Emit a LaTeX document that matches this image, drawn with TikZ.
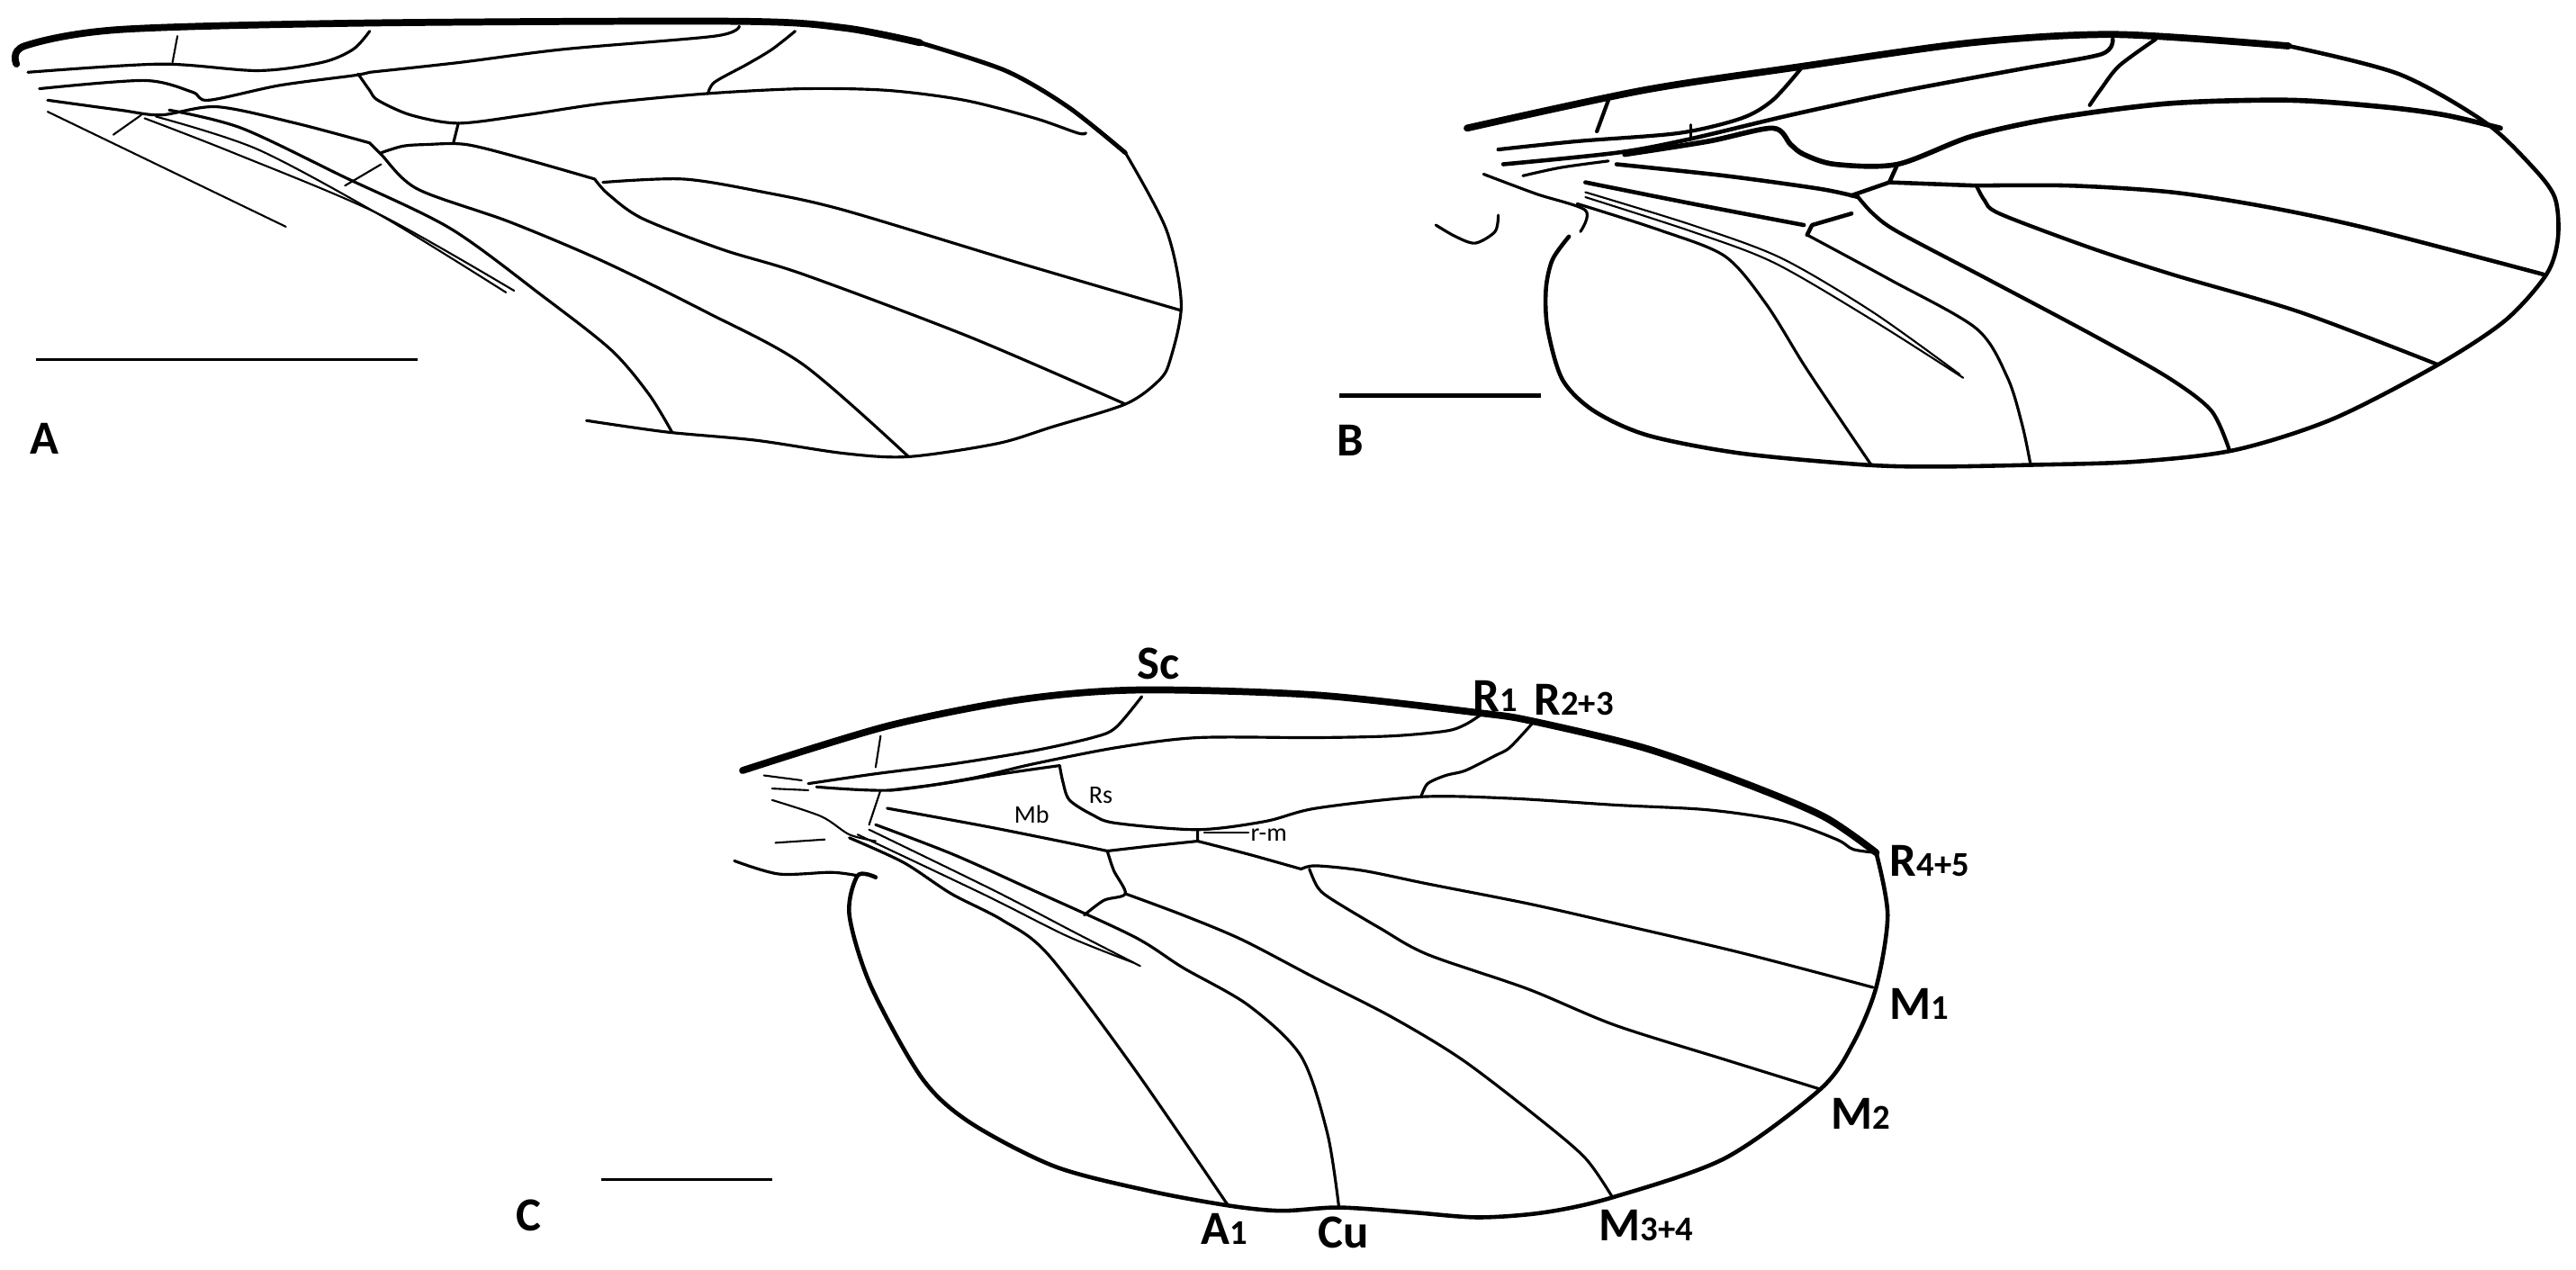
\documentclass[tikz,border=0pt]{standalone}
\usepackage{fontspec}
\setmainfont{Carlito}
\begin{document}
\begin{tikzpicture}[x=0.018253cm,y=-0.018253cm,
  vein/.style={line width=0.9pt,line cap=round,line join=round},
  thinv/.style={line width=0.6pt,line cap=round},
  costa/.style={line width=2.2pt,line cap=round},
  bar/.style={line width=1pt},
  lab/.style={font=\bfseries\fontsize{15}{15}\selectfont,inner sep=0pt},
  slab/.style={font=\fontsize{8}{8}\selectfont,inner sep=0pt},
  sub/.style={}]
\useasboundingbox (0,0) rectangle (1568,773);
% ================= Wing A =================
\draw[costa] plot[smooth] coordinates {(10,39) (15,28) (73,18) (225,14) (450,13) (514,17) (560,26)};
\draw[vein,line width=1.4pt] plot[smooth] coordinates {(560,26) (612,43) (650,65) (685,93)};
\draw[vein] plot[smooth] coordinates {(685,93) (710,140) (719,185) (712,220) (705,232) (685,246) (640,260) (607,270) (553,278) (514,276) (460,268) (406,263) (357,256)};
\draw[vein] plot[smooth] coordinates {(17,44) (98,39) (157,43) (196,38) (215,30) (225,19)};
\draw[thinv] (108,22) -- (105,38);
\draw[vein] plot[smooth] coordinates {(225,44) (280,38) (343,30) (435,22) (450,16)};
\draw[vein] plot[smooth] coordinates {(24,54) (88,49) (117,56) (127,61) (170,52) (215,46) (225,44)};
\draw[vein] plot[smooth] coordinates {(484,19) (470,30) (455,39) (435,50) (431,57)};
\draw[vein] plot[smooth] coordinates {(218,45) (225,55) (230,61) (250,70) (279,75) (320,70) (367,63) (430,57) (489,54) (540,55) (587,61) (630,72) (656,81) (661,81)};
\draw[vein] (279,75) -- (276,87);
\draw[vein] plot[smooth] coordinates {(29,61) (73,67) (98,70) (132,65) (180,75) (225,87)};
\draw[vein] plot[smooth] coordinates {(232,93) (245,89) (259,88) (284,88) (320,97) (362,109)};
\draw[vein] plot[smooth] coordinates {(367,111) (416,109) (465,117) (514,128) (620,160) (719,189)};
\draw[vein] plot[smooth] coordinates {(362,109) (370,118) (391,133) (440,152) (489,167) (590,205) (685,246)};
\draw[vein] plot[smooth] coordinates {(225,87) (232,94) (254,115) (310,135) (367,159) (430,190) (489,222) (553,278)};
\draw[thinv] (232,100) -- (210,113);
\draw[vein] plot[smooth] coordinates {(103,67) (147,78) (210,108) (274,139) (330,180) (372,213) (395,240) (409,263)};
\draw[thinv] plot[smooth] coordinates {(88,72) (142,93) (230,130) (313,177)};
\draw[thinv] plot[smooth] coordinates {(95,71) (157,91) (235,133) (308,178)};
\draw[thinv] (29,68) -- (174,138);
\draw[thinv] (86,70) -- (69,82);
\draw[bar] (22,219) coordinate (a1) -- (254,219) coordinate (a2);
\node[lab] (labA) at (27,267) {A};
% ================= Wing B =================
\draw[costa] plot[smooth] coordinates {(893,78) (1000,55) (1093,41) (1200,26) (1288,21) (1393,28)};
\draw[vein,line width=1.3pt] plot[smooth] coordinates {(1393,28) (1460,45) (1512,74) (1540,100) (1555,120) (1557,145) (1550,167) (1525,195) (1484,222) (1420,255) (1360,274) (1300,281) (1236,283) (1180,284) (1136,283) (1060,276) (1003,265) (970,250) (951,231) (942,200) (941,176) (945,158) (955,144)};
\draw[vein,line width=1.2pt] plot[smooth] coordinates {(912,91) (960,86) (1022,81) (1060,72) (1079,61) (1096,42)};
\draw[vein,line width=1.2pt] (979,61) -- (972,80);
\draw[vein,line width=1.3pt] plot[smooth] coordinates {(915,100) (984,93) (1027,85) (1090,70) (1155,56) (1230,42) (1279,33) (1286,24)};
\draw[vein] (1029,76) -- (1029,85);
\draw[vein,line width=1.2pt] plot[smooth] coordinates {(1312,24) (1290,40) (1279,54) (1272,64)};
\draw[vein,line width=1.6pt] plot[smooth] coordinates {(989,94) (1040,86) (1079,78) (1090,88) (1098,94) (1117,100) (1155,100) (1200,83) (1250,72) (1320,63) (1393,61) (1450,65) (1488,70) (1522,78)};
\draw[vein,line width=1.3pt] (1155,100) -- (1150,111);
\draw[vein,line width=1.3pt] plot[smooth] coordinates {(984,100) (1050,107) (1108,115) (1131,120)};
\draw[vein,line width=1.3pt] (1127,119) -- (1150,111) -- (1203,113);
\draw[vein,line width=1.3pt] plot[smooth] coordinates {(1203,113) (1260,113) (1322,117) (1380,126) (1441,139) (1548,167)};
\draw[vein,line width=1.2pt] plot[smooth] coordinates {(1203,113) (1208,122) (1217,130) (1270,150) (1322,167) (1400,190) (1484,222)};
\draw[vein,line width=1.2pt] plot[smooth] coordinates {(1131,120) (1140,130) (1155,141) (1210,170) (1274,204) (1320,230) (1346,250) (1357,274)};
\draw[vein,line width=1.3pt] (1127,130) -- (1103,137) -- (1100,143);
\draw[vein,line width=1.3pt] plot[smooth] coordinates {(965,111) (1030,124) (1098,137)};
\draw[vein] plot[smooth] coordinates {(1100,143) (1150,170) (1203,200) (1222,230) (1231,259) (1236,283)};
\draw[thinv] plot[smooth] coordinates {(965,117) (1030,137) (1084,157) (1140,190) (1193,228)};
\draw[thinv] plot[smooth] coordinates {(965,120) (1030,141) (1080,160) (1140,195) (1195,230)};
\draw[vein] plot[smooth] coordinates {(960,124) (1010,140) (1050,156) (1075,185) (1098,222) (1120,255) (1139,283)};
\draw[vein] plot[smooth] coordinates {(874,137) (886,144) (898,148) (910,141) (912,131)};
\draw[vein] plot[smooth] coordinates {(903,106) (935,118) (965,128) (962,141)};
\draw[vein] plot[smooth] coordinates {(927,107) (950,102) (979,98)};
\draw[bar,line width=1.4pt] (815,241) coordinate (b1) -- (938,241) coordinate (b2);
\node[lab] (labB) at (822,268) {B};
% ================= Wing C =================
\draw[costa] plot[smooth] coordinates {(452,469) (540,442) (620,426) (692,420) (800,423) (901,434) (933,439) (1000,455) (1060,476) (1110,497) (1142,519)};
\draw[vein,line width=1.3pt] plot[smooth] coordinates {(1142,519) (1149,557) (1142,601) (1128,635) (1108,663) (1050,705) (981,729) (940,738) (900,741) (860,738) (815,735) (780,737) (749,734) (700,725) (642,710) (590,683) (561,656) (530,600) (517,557) (522,533) (533,534)};
\draw[vein] plot[smooth] coordinates {(447,524) (474,532) (506,531) (522,533)};
\draw[thinv] (472,513) -- (502,511);
\draw[thinv] (465,472) -- (488,475);
\draw[thinv] (470,480) -- (492,481);
\draw[vein] plot[smooth] coordinates {(492,477) (533,471) (580,465) (629,457) (665,449) (679,443) (695,424)};
\draw[thinv] (536,448) -- (533,467);
\draw[vein] plot[smooth] coordinates {(497,479) (542,481) (590,474) (629,465) (680,455) (729,449) (800,449) (847,448) (880,445) (892,441) (903,434)};
\draw[vein] plot[smooth] coordinates {(542,481) (574,477) (610,471) (645,466)};
\draw[vein] plot[smooth] coordinates {(645,466) (647,476) (651,487) (665,496) (679,501) (729,505) (770,500) (801,492) (865,485) (920,486) (983,490) (1040,493) (1087,500) (1118,511) (1128,517) (1142,519)};
\draw[vein] plot[smooth] coordinates {(865,485) (869,477) (880,472) (892,469) (910,460) (919,455) (933,440)};
\draw[vein] plot[smooth] coordinates {(540,492) (600,503) (650,513) (674,518)};
\draw[vein] (674,518) -- (700,515) -- (729,512) -- (729,505);
\draw[vein] plot[smooth] coordinates {(729,512) (760,520) (792,529)};
\draw[vein] plot[smooth] coordinates {(792,529) (801,527) (830,530) (869,538) (930,550) (983,562) (1060,580) (1140,601)};
\draw[vein] plot[smooth] coordinates {(797,529) (802,540) (810,547) (840,565) (869,581) (930,602) (983,624) (1050,645) (1108,663)};
\draw[vein] plot[smooth] coordinates {(674,518) (678,530) (685,544) (672,548) (660,557)};
\draw[vein] plot[smooth] coordinates {(685,544) (720,557) (756,572) (800,595) (847,619) (890,645) (937,681) (965,705) (981,728)};
\draw[thinv] plot[smooth] coordinates {(522,508) (600,545) (650,570) (690,586)};
\draw[thinv] plot[smooth] coordinates {(529,505) (605,542) (655,568) (694,588)};
\draw[vein] plot[smooth] coordinates {(533,502) (580,520) (629,542) (690,570) (720,589) (760,612) (792,643) (808,690) (815,735)};
\draw[vein] plot[smooth] coordinates {(517,510) (550,525) (579,544) (610,560) (638,581) (690,650) (747,733)};
\draw[thinv] plot[smooth] coordinates {(470,487) (500,497) (517,508) (533,512)};
\draw[thinv] (536,481) -- (529,502);
\draw[thinv] (733,507) -- (760,507);
\draw[bar] (366,718) coordinate (c1) -- (470,718) coordinate (c2);
\node[lab] (labC) at (322,740) {C};
\node[lab] (Sc) at (705,404) {Sc};
\node[lab] (R1) at (910,424) {R{\fontsize{11}{11}\selectfont 1}};
\node[lab] (R23) at (958,426) {R{\fontsize{11}{11}\selectfont 2+3}};
\node[lab,anchor=west] (R45) at (1150,524) {R{\fontsize{11}{11}\selectfont 4+5}};
\node[lab,anchor=west] (M1) at (1150,611) {M{\fontsize{11}{11}\selectfont 1}};
\node[lab,anchor=west] (M2) at (1114,678) {M{\fontsize{11}{11}\selectfont 2}};
\node[lab] (M34) at (1002,746) {M{\fontsize{11}{11}\selectfont 3+4}};
\node[lab] (Cu) at (818,750) {Cu};
\node[lab] (A1) at (745,748) {A{\fontsize{11}{11}\selectfont 1}};
\node[slab] (Mb) at (628,496) {Mb};
\node[slab] (Rs) at (670,484) {Rs};
\node[slab,anchor=west] (rm) at (761,508) {r-m};
\end{tikzpicture}
\end{document}
